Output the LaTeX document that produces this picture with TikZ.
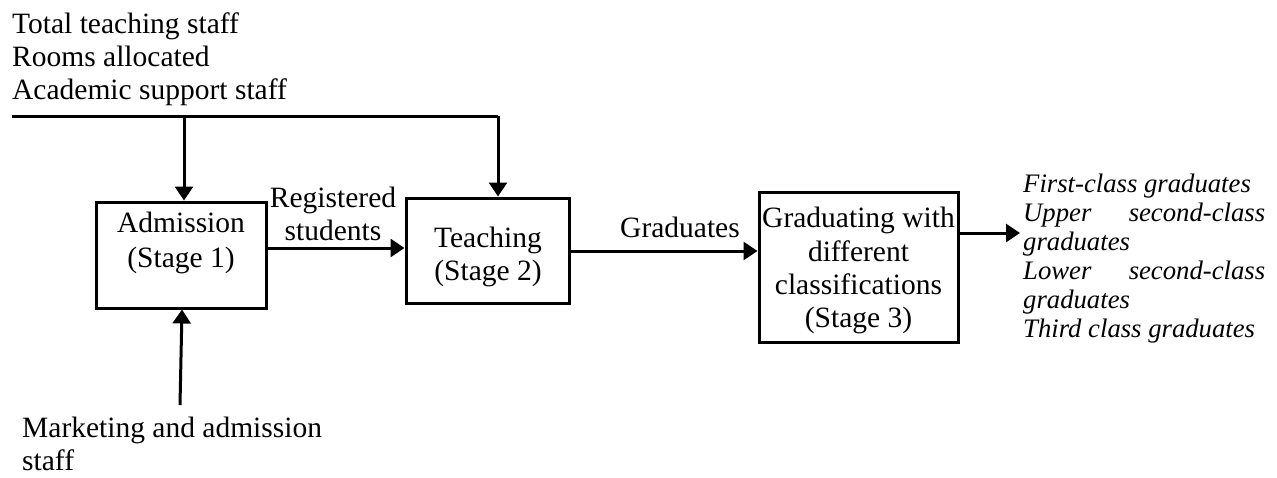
\documentclass[tikz,border=0pt]{standalone}
\usepackage{fontspec}
\setmainfont{Liberation Serif}
\usetikzlibrary{arrows.meta}
\tikzset{
  box/.style={draw, line width=3pt, rectangle, inner sep=0pt},
  txt/.style={anchor=base, inner sep=0pt, font=\fontsize{29.5}{33}\selectfont},
  txtl/.style={anchor=base west, inner sep=0pt, font=\fontsize{29.5}{33}\selectfont},
  ital/.style={anchor=base west, inner sep=0pt, font=\fontsize{26.7}{29}\selectfont\itshape},
  conn/.style={line width=3pt},
  arr/.style={line width=3pt, -{Triangle[length=14pt,width=18pt]}}
}
\begin{document}
\begin{tikzpicture}[x=1pt,y=-1pt]
\useasboundingbox (0,0) rectangle (1277,477);
% top-left inputs
\node[txtl] (t1) at (12,33) {Total teaching staff};
\node[txtl] (t2) at (12,66) {Rooms allocated};
\node[txtl] (t3) at (12,99) {Academic support staff};
% boxes
\node[box, minimum width=170pt, minimum height=106pt] (adm) at (181,255) {};
\node[box, minimum width=163pt, minimum height=105pt] (teach) at (487.5,250.5) {};
\node[box, minimum width=199pt, minimum height=150pt] (s3) at (858.5,267) {};
% box texts
\node[txt] (a1) at (181,232) {Admission};
\node[txt] (a2) at (181,267) {(Stage 1)};
\node[txt] (b1) at (488,247) {Teaching};
\node[txt] (b2) at (488,280) {(Stage 2)};
\node[txt] (c1) at (858.5,227) {Graduating with};
\node[txt] (c2) at (858.5,261) {different};
\node[txt] (c3) at (858.5,294) {classifications};
\node[txt] (c4) at (858.5,327) {(Stage 3)};
% flow labels
\node[txt] (r1) at (333,207) {Registered};
\node[txt] (r2) at (333,240) {students};
\node[txt] (g1) at (680,237) {Graduates};
% outputs
\node[ital] (o1) at (1023,192) {First-class graduates};
\node[ital] (o2) at (1023,221) {\makebox[242pt][l]{Upper\hfill second-class}};
\node[ital] (o3) at (1023,250) {graduates};
\node[ital] (o4) at (1023,279) {\makebox[242pt][l]{Lower\hfill second-class}};
\node[ital] (o5) at (1023,308) {graduates};
\node[ital] (o6) at (1023,337) {Third class graduates};
% bottom input
\node[txtl] (m1) at (22,437) {Marketing and admission};
\node[txtl] (m2) at (22,470) {staff};
% connectors
\coordinate (tl) at (12,116);
\coordinate (tj) at (184,116);
\coordinate (tr) at (498,116);
\coordinate (mk) at (180,405);
\coordinate (out) at (1020,233);
\draw[conn] (tl) -- (tr);
\draw[arr] (tr) -- (tr |- teach.north);
\draw[arr] (tj) -- (tj |- adm.north);
\draw[arr] (adm.east |- 0,248) -- (teach.west |- 0,248);
\draw[arr] (teach.east |- 0,251) -- (s3.west |- 0,251);
\draw[arr] (s3.east |- out) -- (out);
\draw[arr] (mk) -- (182,0 |- adm.south);
\end{tikzpicture}
\end{document}
